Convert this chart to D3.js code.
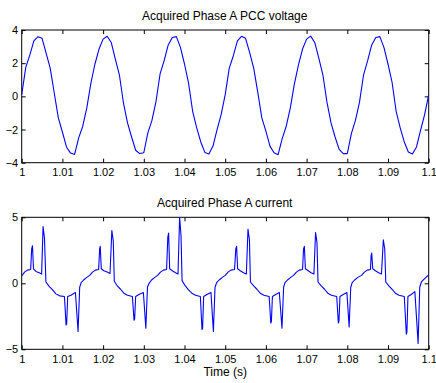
<!DOCTYPE html>
<html>
<head>
<meta charset="utf-8">
<script src="https://cdn.jsdelivr.net/npm/d3@7"></script>
<style>
  body { margin: 0; background: #fff; }
  svg { display: block; font-family: Arial, "Liberation Sans", sans-serif; }
  .axis text { font-size: 11px; fill: #000; }
  .axis line { stroke: #000; }
  .title { font-size: 12px; fill: #000; }
</style>
</head>
<body>
<div id="chart"></div>
<script>
// time axis (s)
const xTicks = [1, 1.01, 1.02, 1.03, 1.04, 1.05, 1.06, 1.07, 1.08, 1.09, 1.1];
const xTickLabels = ["1", "1.01", "1.02", "1.03", "1.04", "1.05", "1.06", "1.07", "1.08", "1.09", "1.1"];

// PCC voltage, one sample each ms from t = 1.000 s
const voltageStartMs = 0;
const voltage = [
  0.1, 1.75, 2.5, 3.35, 3.6, 3.5, 2.6, 1.7, 0.2, -1.3,
  -2.15, -3.05, -3.42, -3.5, -2.5, -1.8, -0.7, 0.8, 1.95, 2.85,
  3.45, 3.62, 3.25, 2.25, 1.3, -0.4, -1.6, -2.45, -3.25, -3.45,
  -3.4, -2.2, -1.45, -0.3, 1.35, 2.15, 3.1, 3.55, 3.6, 2.95,
  1.95, 0.8, -0.9, -1.9, -2.75, -3.38, -3.47, -3.0, -2.0, -1.1,
  0.1, 1.7, 2.45, 3.35, 3.62, 3.5, 2.65, 1.7, 0.25, -1.3,
  -2.1, -3.0, -3.4, -3.52, -2.55, -1.8, -0.7, 0.75, 1.9, 2.85,
  3.45, 3.63, 3.25, 2.3, 1.3, -0.35, -1.6, -2.45, -3.2, -3.45,
  -3.45, -2.25, -1.45, -0.35, 1.3, 2.15, 3.1, 3.55, 3.6, 2.95,
  1.95, 0.85, -0.9, -1.9, -2.75, -3.35, -3.48, -3.05, -2.05, -1.1,
  0.1
];
const voltageTicks = [-4, -2, 0, 2, 4];

// phase A current, time in ms after 1.000 s
const currentMs = [
  0.0, 0.7, 1.4, 2.2, 2.45, 2.65, 2.9, 3.5, 4.3, 4.9, 5.25, 5.6, 5.95, 6.8, 7.6, 8.4, 9.3, 10.5, 10.9, 11.05, 11.3, 12.1, 13.2, 13.85, 14.25, 14.6, 15.2, 16.0,
  16.7, 17.4, 18.1, 18.9, 19.15, 19.3, 19.55, 20.2, 21.0, 21.7, 22.15, 22.5, 22.75, 23.5, 24.3, 25.1, 26.0, 27.2, 27.6, 27.75, 28.0, 28.8, 29.9, 30.5, 30.9, 31.3, 31.9, 32.7,
  33.4, 34.1, 34.8, 35.6, 35.9, 36.1, 36.35, 37.0, 37.8, 38.4, 38.8, 39.15, 39.4, 40.2, 41.0, 41.8, 42.7, 43.9, 44.3, 44.45, 44.7, 45.5, 46.5, 47.1, 47.5, 47.9, 48.5, 49.3,
  50.0, 50.7, 51.4, 52.3, 52.6, 52.8, 53.05, 53.7, 54.5, 55.2, 55.6, 55.95, 56.2, 57.0, 57.8, 58.6, 59.5, 60.8, 61.2, 61.35, 61.6, 62.4, 63.3, 63.95, 64.35, 64.7, 65.3, 66.1,
  66.8, 67.5, 68.2, 69.0, 69.25, 69.45, 69.7, 70.4, 71.1, 71.8, 72.2, 72.55, 72.8, 73.6, 74.4, 75.2, 76.1, 77.4, 77.8, 77.95, 78.2, 79.0, 79.9, 80.45, 80.85, 81.2, 81.8, 82.6,
  83.5, 84.2, 84.9, 85.7, 85.85, 86.0, 86.25, 86.9, 87.7, 88.4, 88.85, 89.2, 89.45, 90.2, 91.0, 91.8, 92.7, 94.0, 94.5, 94.65, 94.9, 95.7, 96.6, 97.4, 97.8, 98.2, 99.0, 100.0
];
const current = [
  0.55, 0.85, 1.0, 1.05, 2.6, 2.85, 1.1, 0.9, 0.8, 0.7, 4.3, 3.4, 0.1, -0.25, -0.5, -0.8, -0.95, -1.0, -3.15, -3.1, -1.0, -0.9, -0.7, -3.65, -0.3, 0.05, 0.25, 0.45,
  0.6, 0.85, 1.0, 1.05, 2.6, 2.8, 1.1, 0.95, 0.85, 0.75, 4.0, 3.2, 0.15, -0.2, -0.45, -0.75, -0.9, -1.0, -2.8, -2.7, -1.0, -0.85, -0.7, -3.4, -0.3, 0.0, 0.25, 0.45,
  0.6, 0.85, 1.0, 1.05, 3.5, 3.8, 1.1, 0.95, 0.8, 0.7, 5.0, 3.6, 0.2, -0.2, -0.5, -0.75, -0.9, -1.0, -3.5, -3.4, -1.0, -0.85, -0.7, -3.65, -0.3, 0.05, 0.25, 0.45,
  0.6, 0.85, 1.0, 1.05, 2.6, 2.8, 1.1, 0.95, 0.8, 0.7, 4.1, 3.3, 0.1, -0.2, -0.45, -0.75, -0.9, -1.0, -3.0, -2.9, -1.0, -0.85, -0.7, -3.4, -0.3, 0.05, 0.25, 0.45,
  0.6, 0.85, 1.0, 1.05, 2.6, 2.8, 1.1, 0.95, 0.8, 0.7, 3.85, 3.1, 0.1, -0.2, -0.45, -0.75, -0.9, -1.0, -3.0, -2.9, -1.0, -0.85, -0.7, -3.3, -0.3, 0.05, 0.25, 0.45,
  0.6, 0.85, 1.0, 1.05, 2.1, 2.3, 1.1, 0.95, 0.8, 0.7, 3.3, 2.6, 0.1, -0.2, -0.45, -0.75, -0.9, -1.0, -3.85, -3.7, -1.0, -0.85, -0.63, -4.55, -0.3, 0.1, 0.35, 0.63
];
const currentTicks = [-5, 0, 5];

const titles = ["Acquired Phase A PCC voltage", "Acquired Phase A current"];
const xLabel = "Time (s)";

const W = 436, H = 383;
const left = 21.7, right = 428.7;
const panels = [
  {top: 30, bottom: 162.7, domain: [-4, 4], ticks: voltageTicks, title: titles[0],
   data: voltage.map((v, i) => [1 + (voltageStartMs + i) / 1000, v])},
  {top: 217.3, bottom: 349.3, domain: [-5, 5], ticks: currentTicks, title: titles[1],
   data: current.map((v, i) => [1 + currentMs[i] / 1000, v])}
];

const svg = d3.select("#chart").append("svg")
  .attr("width", W)
  .attr("height", H);

const x = d3.scaleLinear().domain([1, 1.1]).range([left, right]);

panels.forEach((p, k) => {
  const y = d3.scaleLinear().domain(p.domain).range([p.bottom, p.top]);
  const g = svg.append("g");

  g.append("clipPath").attr("id", "clip" + k)
    .append("rect")
    .attr("x", left).attr("y", p.top)
    .attr("width", right - left).attr("height", p.bottom - p.top);

  // bottom axis with labels, ticks pointing in
  g.append("g").attr("class", "axis")
    .attr("transform", "translate(0," + p.bottom + ")")
    .call(d3.axisBottom(x).tickValues(xTicks)
      .tickFormat((d, i) => xTickLabels[i])
      .tickSizeInner(-4).tickSizeOuter(0).tickPadding(6));

  g.append("g").attr("class", "axis")
    .attr("transform", "translate(0," + p.top + ")")
    .call(d3.axisTop(x).tickValues(xTicks).tickFormat("")
      .tickSizeInner(-4).tickSizeOuter(0));

  g.append("g").attr("class", "axis")
    .attr("transform", "translate(" + left + ",0)")
    .call(d3.axisLeft(y).tickValues(p.ticks)
      .tickSizeInner(-4).tickSizeOuter(0).tickPadding(3.5));

  g.append("g").attr("class", "axis")
    .attr("transform", "translate(" + right + ",0)")
    .call(d3.axisRight(y).tickValues(p.ticks).tickFormat("")
      .tickSizeInner(-4).tickSizeOuter(0));

  g.selectAll(".axis .domain").remove();

  g.append("rect")
    .attr("x", left).attr("y", p.top)
    .attr("width", right - left).attr("height", p.bottom - p.top)
    .attr("fill", "none")
    .attr("stroke", "#000")
    .attr("stroke-width", 1);

  g.append("path")
    .datum(p.data)
    .attr("clip-path", "url(#clip" + k + ")")
    .attr("fill", "none")
    .attr("stroke", "#0000ff")
    .attr("stroke-width", 1.1)
    .attr("stroke-linejoin", "round")
    .attr("d", d3.line().x(d => x(d[0])).y(d => y(d[1])));

  g.append("text")
    .attr("class", "title")
    .attr("x", (left + right) / 2 - 0.5)
    .attr("y", p.top - 10)
    .attr("text-anchor", "middle")
    .text(p.title);
});

svg.append("text")
  .attr("class", "title")
  .attr("x", (left + right) / 2)
  .attr("y", 376)
  .attr("text-anchor", "middle")
  .text(xLabel);
</script>
</body>
</html>
